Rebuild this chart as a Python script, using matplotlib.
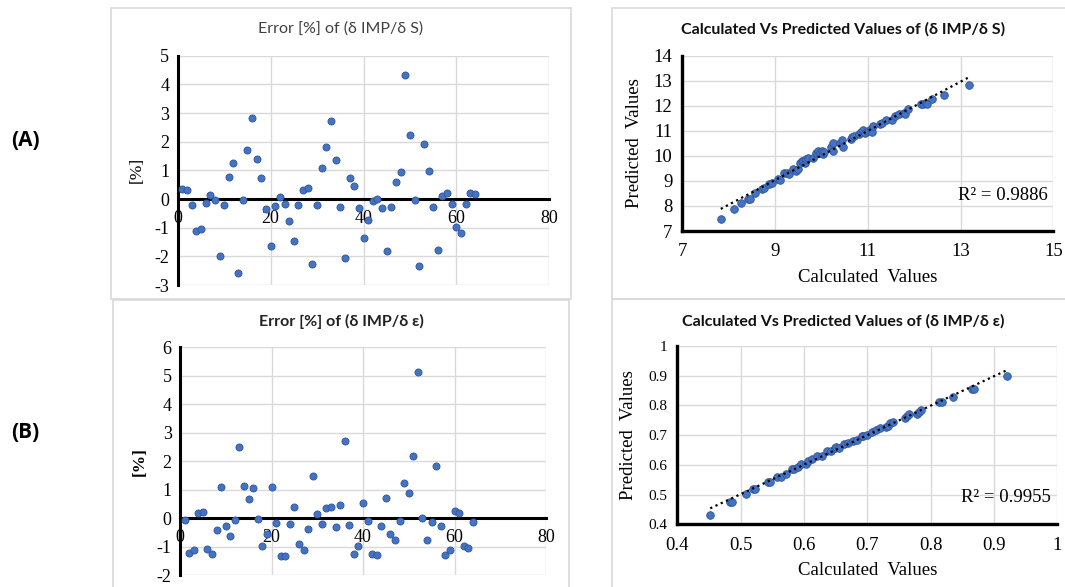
import numpy as np
import matplotlib
matplotlib.use("Agg")
import matplotlib.pyplot as plt
from matplotlib.patches import Rectangle

plt.rcParams["axes.unicode_minus"] = False

# Error [%] of (dIMP/dS) for sample 1..64
err_s = [0.36, 0.31, -0.22, -1.10, -1.03, -0.13, 0.15, -0.03, -1.99, -0.22,
         0.78, 1.27, -2.59, -0.03, 1.70, 2.81, 1.41, 0.75, -0.34, -1.65,
         -0.24, 0.08, -0.16, -0.76, -1.47, -0.22, 0.31, 0.40, -2.28, -0.22,
         1.07, 1.82, 2.73, 1.36, -0.27, -2.07, 0.72, 0.44, -0.31, -1.35,
         -0.74, -0.08, -0.01, -0.33, -1.83, -0.27, 0.58, 0.93, 4.31, 2.23,
         -0.02, -2.34, 1.92, 0.99, -0.29, -1.78, 0.10, 0.22, -0.19, -0.96,
         -1.20, -0.16, 0.22, 0.17]

# Error [%] of (dIMP/d eps)
err_e = [-0.07, -1.22, -1.10, 0.19, 0.22, -1.08, -1.24, -0.42, 1.11, -0.26,
         -0.61, -0.05, 2.49, 1.13, 0.69, 1.08, -0.02, -0.98, -0.55, 1.11,
         -0.18, -1.33, -1.32, -0.19, 0.39, -0.91, -1.12, -0.36, 1.50, 0.16,
         -0.19, 0.35, 0.39, -0.32, 0.48, 2.70, -0.25, -1.25, -0.96, 0.53,
         -0.09, -1.25, -1.30, -0.28, 0.71, -0.55, -0.77, -0.09, 1.24, 0.88,
         2.18, 5.12, 0.02, -0.77, -0.14, 1.84, -0.26, -1.30, -1.10, 0.26,
         0.18, -0.98, -1.05, -0.14]

sample_s = np.arange(1, len(err_s) + 1)
sample_e = np.arange(1, len(err_e) + 1)

# calculated vs predicted (dIMP/dS)
calc_s = [7.83, 8.11, 8.27, 8.42, 8.46, 8.57, 8.71, 8.76, 8.87, 8.93,
          9.07, 9.11, 9.20, 9.26, 9.30, 9.38, 9.45, 9.49, 9.54, 9.58,
          9.61, 9.65, 9.67, 9.72, 9.81, 9.88, 9.93, 9.97, 10.01, 10.04,
          10.06, 10.20, 10.24, 10.26, 10.40, 10.44, 10.47, 10.63, 10.67, 10.70,
          10.82, 10.85, 10.90, 10.94, 11.00, 11.06, 11.08, 11.12, 11.26, 11.30,
          11.39, 11.52, 11.59, 11.67, 11.77, 11.80, 11.86, 12.14, 12.20, 12.25,
          12.28, 12.38, 12.65, 13.19]
pred_s = [7.49, 7.89, 8.11, 8.27, 8.29, 8.51, 8.69, 8.72, 8.88, 8.91,
          9.09, 9.04, 9.31, 9.31, 9.27, 9.49, 9.40, 9.46, 9.70, 9.78,
          9.81, 9.70, 9.86, 9.92, 9.90, 10.10, 10.21, 10.13, 10.21, 10.08,
          10.17, 10.34, 10.50, 10.21, 10.53, 10.64, 10.37, 10.66, 10.77, 10.80,
          10.87, 10.97, 11.03, 10.91, 10.98, 11.06, 10.97, 11.19, 11.27, 11.30,
          11.43, 11.43, 11.60, 11.67, 11.72, 11.66, 11.86, 12.06, 12.07, 12.12,
          12.06, 12.26, 12.44, 12.84]

# calculated vs predicted (dIMP/d eps)
calc_e = [0.452, 0.483, 0.486, 0.509, 0.519, 0.522, 0.543, 0.546, 0.557, 0.564,
          0.571, 0.581, 0.584, 0.590, 0.595, 0.603, 0.606, 0.612, 0.620, 0.628,
          0.636, 0.643, 0.649, 0.651, 0.656, 0.663, 0.669, 0.677, 0.684, 0.691,
          0.694, 0.699, 0.707, 0.714, 0.720, 0.729, 0.732, 0.736, 0.740, 0.759,
          0.762, 0.766, 0.778, 0.781, 0.785, 0.814, 0.818, 0.836, 0.866, 0.868,
          0.920]
pred_e = [0.431, 0.474, 0.476, 0.501, 0.518, 0.518, 0.544, 0.544, 0.559, 0.558,
          0.570, 0.587, 0.587, 0.594, 0.603, 0.603, 0.614, 0.619, 0.630, 0.630,
          0.646, 0.647, 0.656, 0.661, 0.658, 0.671, 0.674, 0.680, 0.685, 0.697,
          0.698, 0.701, 0.712, 0.716, 0.725, 0.727, 0.731, 0.741, 0.743, 0.759,
          0.764, 0.770, 0.772, 0.779, 0.785, 0.813, 0.813, 0.828, 0.856, 0.854,
          0.899]

r2_s = 0.9886
r2_e = 0.9955

W, H = 1065, 587
fig = plt.figure(figsize=(W / 100, H / 100), dpi=100)
fig.patch.set_facecolor("white")

def box(x0, y0, x1, y1):
    # pixel box (top-left origin) -> figure fraction rect
    return [x0 / W, 1 - y1 / H, (x1 - x0) / W, (y1 - y0) / H]

# panel frames
frames = [(111, 8, 571, 299), (113, 300, 569, 600),
          (612, 8, 1075, 299), (612, 299, 1075, 600)]
for x0, y0, x1, y1 in frames:
    fig.patches.append(Rectangle((x0 / W, 1 - y1 / H), (x1 - x0) / W, (y1 - y0) / H,
                                 transform=fig.transFigure, fill=False,
                                 edgecolor="#d9d9d9", lw=1.2))

serif = "Liberation Serif"
sans = "Lato"
dot_face = "#4472c4"
dot_edge = "#2f5597"
grid_c = "#d9d9d9"


def panel_title(text, cx, cy, bold, color):
    fig.text(cx / W, 1 - cy / H, text, fontsize=11.5, fontfamily=sans,
             fontweight="bold" if bold else "normal", color=color,
             ha="center", va="center")


def error_panel(rect, x, y, ylim, bold):
    ax = fig.add_axes(rect)
    ax.scatter(x, y, s=26, color=dot_face, edgecolor=dot_edge, linewidth=0.6, zorder=3)
    ax.set_xlim(0, 80)
    ax.set_ylim(*ylim)
    ax.set_xticks(range(0, 81, 20))
    ax.set_yticks(range(ylim[0], ylim[1] + 1))
    ax.grid(True, color=grid_c, lw=1)
    ax.set_axisbelow(True)
    ax.spines["top"].set_visible(False)
    ax.spines["right"].set_visible(False)
    ax.spines["bottom"].set_position(("data", 0))
    for s in ("bottom", "left"):
        ax.spines[s].set_linewidth(2.2)
        ax.spines[s].set_color("black")
        ax.spines[s].set_zorder(2)
    ax.tick_params(length=0, labelsize=13, pad=6)
    ax.tick_params(axis="x", pad=8)
    for lab in ax.get_xticklabels() + ax.get_yticklabels():
        lab.set_fontfamily(serif)
    ax.set_ylabel("[%]", fontsize=12.5, fontfamily=serif,
                  fontweight="bold" if bold else "normal")
    ax.yaxis.set_label_coords(-0.088, 0.5)
    return ax


def fit_panel(rect, calc, pred, lim_x, ticks_x, lim_y, ticks_y, r2,
              xtick_size, ytick_size, r2_xy):
    ax = fig.add_axes(rect)
    ax.scatter(calc, pred, s=30, color=dot_face, edgecolor=dot_edge, linewidth=0.6, zorder=3)
    k, b = np.polyfit(calc, pred, 1)
    xs = np.array([min(calc), max(calc)])
    ax.plot(xs, k * xs + b, color="black", lw=1.6, linestyle=(0, (1, 1.6)), zorder=4)
    ax.set_xlim(*lim_x)
    ax.set_ylim(*lim_y)
    ax.set_xticks(ticks_x)
    ax.set_yticks(ticks_y)
    ax.xaxis.set_major_formatter(plt.FuncFormatter(lambda v, p: f"{v:g}"))
    ax.yaxis.set_major_formatter(plt.FuncFormatter(lambda v, p: f"{v:g}"))
    ax.grid(True, color=grid_c, lw=1)
    ax.set_axisbelow(True)
    ax.spines["top"].set_visible(False)
    ax.spines["right"].set_visible(False)
    for s in ("bottom", "left"):
        ax.spines[s].set_linewidth(2.4)
        ax.spines[s].set_color("black")
    ax.tick_params(length=0)
    ax.tick_params(axis="x", labelsize=xtick_size, pad=9)
    ax.tick_params(axis="y", labelsize=ytick_size, pad=7)
    for lab in ax.get_xticklabels() + ax.get_yticklabels():
        lab.set_fontfamily(serif)
    ax.set_xlabel("Calculated  Values", fontsize=13.5, fontfamily=serif, labelpad=6)
    ax.set_ylabel("Predicted  Values", fontsize=13.5, fontfamily=serif)
    ax.yaxis.set_label_coords(-0.105, 0.5)
    ax.text(r2_xy[0], r2_xy[1], f"R² = {r2}", transform=ax.transAxes,
            ha="center", va="center", fontsize=13.5, fontfamily=serif)
    return ax


error_panel(box(177.7, 55.7, 549.3, 285), sample_s, err_s, (-3, 5), False)
error_panel(box(180, 347.3, 546, 575.3), sample_e, err_e, (-2, 6), True)

fit_panel(box(682.3, 55.7, 1053.3, 231), calc_s, pred_s, (7, 15), [7, 9, 11, 13, 15],
          (7, 14), range(7, 15), r2_s, 13.5, 13.5, (0.865, 0.2))
fit_panel(box(677.3, 346, 1057.3, 524.3), calc_e, pred_e, (0.4, 1.0),
          [0.4, 0.5, 0.6, 0.7, 0.8, 0.9, 1.0], (0.4, 1.0),
          [0.4, 0.5, 0.6, 0.7, 0.8, 0.9, 1.0], r2_e, 13.5, 11, (0.865, 0.15))

panel_title("Error [%] of (δ IMP/δ S)", 341, 29, False, "#404040")
panel_title("Error [%] of (δ IMP/δ ε)", 341, 321, True, "#222222")
panel_title("Calculated Vs Predicted Values of (δ IMP/δ S)", 843, 29, True, "#111111")
panel_title("Calculated Vs Predicted Values of (δ IMP/δ ε)", 843, 321, True, "#111111")

fig.text(25 / W, 1 - 140 / H, "(A)", fontsize=15, fontweight="bold",
         fontfamily="Open Sans", ha="center", va="center")
fig.text(25 / W, 1 - 433 / H, "(B)", fontsize=15, fontweight="bold",
         fontfamily="Open Sans", ha="center", va="center")

fig.savefig("out.png", dpi=100)
